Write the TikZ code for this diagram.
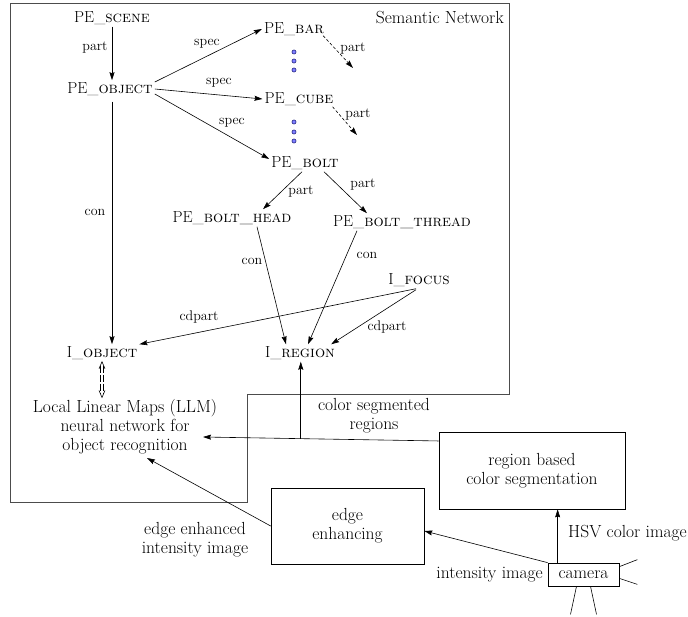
\documentclass[tikz,border=0pt]{standalone}
\usepackage{fontspec}
\usetikzlibrary{arrows.meta,calc}
\begin{document}
\begin{tikzpicture}[x=1pt,y=-1pt,
  lbl/.style={font=\fontsize{16}{19}\selectfont, inner sep=2pt},
  txt/.style={font=\fontsize{17.5}{19}\selectfont, inner sep=2pt},
  elbl/.style={font=\fontsize{14}{16}\selectfont, inner sep=1pt},
  arr/.style={-{Stealth[length=8pt,width=5pt,inset=1pt]}, line width=0.6pt},
  dsh/.style={arr, dash pattern=on 3pt off 2pt},
  box/.style={draw, line width=0.7pt, txt, align=center},
  dotn/.style={circle, draw=blue!35!black, fill=blue!50!white, inner sep=0pt, minimum size=4.2pt, line width=0.4pt},
]
\useasboundingbox (0,0) rectangle (688,617);

% semantic network frame
\draw[line width=0.9pt, black!70] (10,3) -- (509,3) -- (509,394) -- (247,394) -- (247,502) -- (10,502) -- cycle;
\node[txt, anchor=east] (semnet) at (506,18) {Semantic Network};

% concept nodes
\node[lbl] (pscene) at (112,18) {PE\_\textsc{scene}};
\node[lbl] (pobj) at (110,89) {PE\_\textsc{object}};
\node[lbl] (pbar) at (294,29) {PE\_\textsc{bar}};
\node[lbl] (pcube) at (299,99) {PE\_\textsc{cube}};
\node[lbl] (pbolt) at (305,163) {PE\_\textsc{bolt}};
\node[lbl] (phead) at (232,218) {PE\_\textsc{bolt\_head}};
\node[lbl] (pthread) at (402,222) {PE\_\textsc{bolt\_thread}};
\node[lbl] (ifocus) at (419,280) {I\_\textsc{focus}};
\node[lbl] (iobj) at (102,353) {I\_\textsc{object}};
\node[lbl] (iregion) at (300,353) {I\_\textsc{region}};

% dots
\node[dotn] (d1) at (294,52) {};
\node[dotn] (d2) at (294,61) {};
\node[dotn] (d3) at (294,70) {};
\node[dotn] (d4) at (294,122) {};
\node[dotn] (d5) at (294,132) {};
\node[dotn] (d6) at (294,141) {};

% lower nodes
\node[txt, align=center] (llm) at (125,427) {Local Linear Maps (LLM)\\neural network for\\object recognition};
\node[box, minimum width=186pt, minimum height=77pt] (region) at (532,470.5) {region based\\color segmentation};
\node[box, minimum width=153pt, minimum height=76pt] (edge) at (347.5,526) {edge\\enhancing};
\node[box, minimum width=71pt, minimum height=23pt, inner sep=1pt] (camera) at (583.5,574.5) {camera};

% connector labels
\node[elbl] (l1) at (95,48) {part};
\node[elbl] (l2) at (207,44) {spec};
\node[elbl] (l3) at (219,83) {spec};
\node[elbl] (l4) at (232,123) {spec};
\node[elbl] (l5) at (353,49) {part};
\node[elbl] (l6) at (358,115) {part};
\node[elbl] (l7) at (301,192) {part};
\node[elbl] (l8) at (363,185) {part};
\node[elbl] (l9) at (95,212) {con};
\node[elbl] (l10) at (252,261) {con};
\node[elbl] (l11) at (367,255) {con};
\node[elbl] (l12) at (199,317) {cdpart};
\node[elbl] (l13) at (387,327) {cdpart};
\node[txt, align=center] (l14) at (374,416) {color segmented\\regions};
\node[txt, align=center] (l15) at (195,540) {edge enhanced\\intensity image};
\node[txt, anchor=east] (l16) at (545,575) {intensity image};
\node[txt, anchor=west] (l17) at (566,533) {HSV color image};

% free ends
\coordinate (barpart) at (353,68);
\coordinate (cubepart) at (357,135);
\coordinate (llmtip) at (203,437);
\coordinate (llmtip2) at (147,458);

% connectors in the semantic network
\draw[arr] (pscene) -- (pobj.north -| pscene);
\draw[arr] ([yshift=7pt]pobj.east) -- (pbar.west);
\draw[arr] (pobj.east) -- (pcube.west);
\draw[arr] ([yshift=-5pt]pobj.east) -- ([yshift=4pt]pbolt.west);
\draw[dsh] ([xshift=-3pt,yshift=2pt]pbar.south east) -- (barpart);
\draw[dsh] ([xshift=-3pt,yshift=1pt]pcube.south east) -- (cubepart);
\draw[arr] ([xshift=-3pt]pbolt.south) -- ([xshift=31pt]phead.north);
\draw[arr] ([xshift=19pt]pbolt.south) -- ([xshift=-35pt]pthread.north);
\draw[arr, shorten <=4pt] (pobj.south -| pscene) -- (iobj.north -| pscene);
\draw[arr] ([xshift=25pt]phead.south) -- ([xshift=-14pt]iregion.north);
\draw[arr] ([xshift=-45pt]pthread.south) -- ([xshift=8pt]iregion.north);
\draw[arr] ([xshift=-3pt]ifocus.south) -- (iobj.north east);
\draw[arr] ([xshift=-3pt,yshift=-1pt]ifocus.south) -- ([xshift=-6pt]iregion.north east);

% I_OBJECT <-> LLM (double line with open tips)
\coordinate (dtop) at (iobj.south);
\coordinate (dbot) at (iobj.south |- llm.north);
\draw[line width=0.5pt, dash pattern=on 7pt off 2pt] ($(dtop)+(-1.3,4)$) -- ($(dbot)+(-1.3,-4)$);
\draw[line width=0.5pt, dash pattern=on 7pt off 2pt] ($(dtop)+(1.3,4)$) -- ($(dbot)+(1.3,-4)$);
\draw[line width=0.6pt] ($(dtop)+(-3,7)$) -- (dtop) -- ($(dtop)+(3,7)$);
\draw[line width=0.6pt] ($(dbot)+(-3,-7)$) -- (dbot) -- ($(dbot)+(3,-7)$);

% processing chain
\draw[arr] ($(region.north west)!0.12!(region.south west)$) -- coordinate[pos=0.585] (jn) (llmtip);
\draw[arr] (jn) -- (jn |- iregion.south);
\draw[arr] (edge.west) -- (llmtip2);
\draw[arr] (camera.north west) -- ([yshift=-5pt]edge.east);
\draw[arr] ([xshift=10pt]camera.north west) -- ([xshift=10pt]camera.north west |- region.south);

% camera rays
\draw[line width=0.6pt] ([yshift=-4pt]camera.north east) -- ++(18,-7);
\draw[line width=0.6pt] ([yshift=8pt]camera.south east) -- ++(18,6);
\draw[line width=0.6pt] ([xshift=-7pt]camera.south) -- ++(-6,28);
\draw[line width=0.6pt] ([xshift=7pt]camera.south) -- ++(6,28);
\end{tikzpicture}
\end{document}
